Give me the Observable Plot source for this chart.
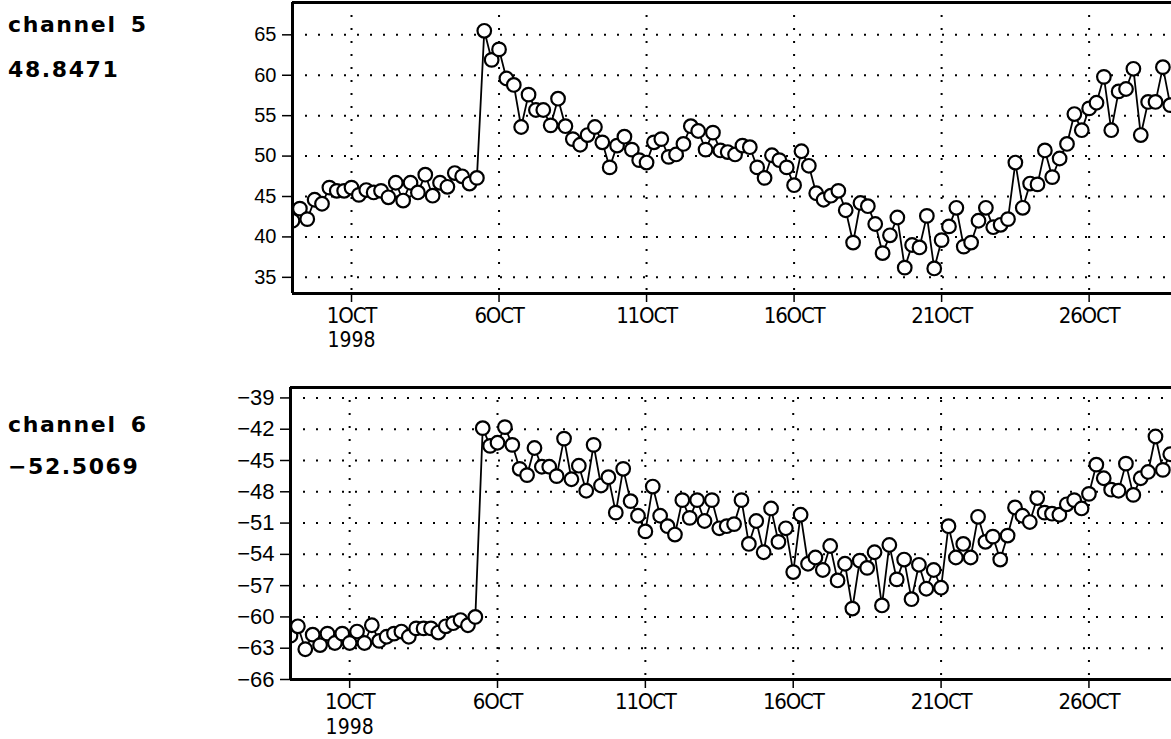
<!DOCTYPE html>
<html>
<head>
<meta charset="utf-8">
<script src="https://cdn.jsdelivr.net/npm/d3@7"></script>
<script src="https://cdn.jsdelivr.net/npm/@observablehq/plot@0.6"></script>
<style>
  html, body { margin: 0; padding: 0; background: #fff; }
  body { width: 1171px; height: 739px; position: relative; overflow: hidden; }
  .lab { position: absolute; left: 8px; z-index: 5; font-family: "DejaVu Sans", sans-serif; font-weight: bold;
         font-size: 22px; letter-spacing: 1.6px; word-spacing: 5px; line-height: 1; color: #000; white-space: pre; }
  .panel { position: absolute; left: 0; z-index: 1; }
  .panel [aria-label^="x-axis"] text { font-family: "DejaVu Sans Condensed", "Liberation Sans Narrow", "Liberation Sans", sans-serif; font-size: 22px; letter-spacing: -1.2px; }
  #p1 [aria-label^="y-axis"] text { font-size: 20px; }
  #p2 [aria-label^="y-axis"] text { font-size: 22px; }
  .panel [aria-label^="y-axis"] line, .panel [aria-label^="y-axis"] path,
  .panel [aria-label^="x-axis"] line, .panel [aria-label^="x-axis"] path { stroke-width: 1.5px; }
</style>
</head>
<body>
<div id="p1" class="panel" style="top:0px"></div>
<div id="p2" class="panel" style="top:385px"></div>
<div class="lab" style="top:14px">channel 5</div>
<div class="lab" style="top:59px">48.8471</div>
<div class="lab" style="top:414px">channel 6</div>
<div class="lab" style="top:456px">−52.5069</div>
<script>
// ---- data (6-hourly samples starting 29 Sep 1998 00:00 UTC) ----
const startUTC = [1998, 8, 29];
const stepHours = 6;

const ch5 = [
  42.0, 43.5, 42.2, 44.6, 44.1, 46.1, 45.7, 45.7, 46.1, 45.2,
  45.8, 45.5, 45.7, 44.9, 46.7, 44.5, 46.7, 45.5, 47.7, 45.1,
  46.7, 46.2, 47.9, 47.5, 46.6, 47.3, 65.5, 61.9, 63.2, 59.6,
  58.8, 53.6, 57.6, 55.7, 55.7, 53.8, 57.1, 53.7, 52.1, 51.4,
  52.6, 53.6, 51.7, 48.6, 51.3, 52.4, 50.8, 49.5, 49.2, 51.7,
  52.1, 49.9, 50.2, 51.5, 53.7, 53.1, 50.8, 52.9, 50.7, 50.5,
  50.2, 51.3, 51.1, 48.6, 47.3, 50.1, 49.5, 48.6, 46.4, 50.6,
  48.8, 45.4, 44.6, 45.1, 45.7, 43.3, 39.3, 44.2, 43.8, 41.6,
  38.0, 40.2, 42.4, 36.2, 39.0, 38.7, 42.6, 36.1, 39.6, 41.3,
  43.6, 38.8, 39.3, 42.0, 43.6, 41.2, 41.5, 42.2, 49.2, 43.6,
  46.6, 46.5, 50.7, 47.4, 49.7, 51.5, 55.2, 53.2, 55.9, 56.6,
  59.8, 53.2, 58.0, 58.3, 60.8, 52.6, 56.7, 56.7, 61.0, 56.3
];

const ch6 = [
  -61.8, -60.9, -63.1, -61.7, -62.7, -61.6, -62.5, -61.6, -62.5, -61.4,
  -62.5, -60.8, -62.3, -61.9, -61.6, -61.4, -61.9, -61.1, -61.1, -61.1,
  -61.5, -60.9, -60.6, -60.3, -60.8, -60.0, -41.9, -43.6, -43.3, -41.8,
  -43.5, -45.8, -46.4, -43.8, -45.6, -45.6, -46.5, -42.9, -46.8, -45.5,
  -47.9, -43.5, -47.4, -46.6, -50.0, -45.8, -48.9, -50.3, -51.8, -47.5,
  -50.3, -51.3, -52.1, -48.8, -50.5, -48.8, -50.8, -48.8, -51.5, -51.3,
  -51.1, -48.8, -53.0, -50.8, -53.8, -49.6, -52.8, -51.5, -55.7, -50.2,
  -54.9, -54.3, -55.5, -53.2, -56.5, -54.9, -59.2, -54.6, -55.3, -53.8,
  -58.9, -53.1, -56.4, -54.5, -58.3, -55.0, -57.3, -55.5, -57.2, -51.3,
  -54.3, -53.0, -54.3, -50.4, -52.8, -52.3, -54.5, -52.2, -49.5, -50.3,
  -50.9, -48.6, -50.0, -50.1, -50.2, -49.2, -48.8, -49.6, -48.2, -45.4,
  -46.7, -47.8, -47.9, -45.3, -48.3, -46.7, -46.1, -42.7, -45.9, -44.4
];

const tickDaysOct = [1, 6, 11, 16, 21, 26];
const yearLabel = "1998";
const ch5Ticks = [35, 40, 45, 50, 55, 60, 65];
const ch6Ticks = [-66, -63, -60, -57, -54, -51, -48, -45, -42, -39];
const ch5Domain = [33, 69];
const ch6Domain = [-66, -38];
const xDomainUTC = [[1998, 8, 29, 0], [1998, 9, 28, 19]];

// ---- derived ----
const t0 = Date.UTC(...startUTC);
const toRows = vals => vals.map((v, i) => ({t: new Date(t0 + i * stepHours * 3600e3), v}));
const tickDates = tickDaysOct.map(d => new Date(Date.UTC(1998, 9, d)));
const xDomain = xDomainUTC.map(a => new Date(Date.UTC(...a)));
const fmtY = d => (d < 0 ? "\u2212" + (-d) : String(d));

function panel(values, yDomain, yTicks, marginLeft, height, marginBottom, yearDy) {
  const rows = toRows(values);
  return Plot.plot({
    width: 1171,
    height,
    marginTop: 2,
    marginLeft,
    marginRight: 0,
    marginBottom,
    style: {fontFamily: "Liberation Sans, sans-serif", fontSize: "20px", color: "black", background: "transparent", overflow: "visible"},
    x: {type: "utc", domain: xDomain, ticks: tickDates, tickFormat: d => d.getUTCDate() + "OCT", tickSize: 9, tickPadding: 5, label: null},
    y: {domain: yDomain, ticks: yTicks, tickFormat: fmtY, tickSize: 10, tickPadding: 6, label: null},
    marks: [
      Plot.ruleY(yTicks, {stroke: "black", strokeWidth: 2, strokeDasharray: "2,11"}),
      Plot.ruleX(tickDates, {stroke: "black", strokeWidth: 2, strokeDasharray: "2,11"}),
      Plot.line(rows, {x: "t", y: "v", stroke: "black", strokeWidth: 1.8, clip: true}),
      Plot.dot(rows, {x: "t", y: "v", r: 6.8, stroke: "black", strokeWidth: 2.2, fill: "white", clip: true}),
      Plot.ruleX([xDomain[0]], {stroke: "black", strokeWidth: 3}),
      Plot.ruleY([yDomain[0]], {stroke: "black", strokeWidth: 3}),
      Plot.ruleY([yDomain[1]], {stroke: "black", strokeWidth: 3}),
      Plot.text([yearLabel], {x: () => tickDates[0], text: d => d, frameAnchor: "bottom", lineAnchor: "top", dy: yearDy,
        fontFamily: "DejaVu Sans Condensed, Liberation Sans Narrow, Liberation Sans, sans-serif", fontSize: 21, fill: "black"})
    ]
  });
}

document.getElementById("p1").append(panel(ch5, ch5Domain, ch5Ticks, 292, 360, 67, 39));
document.getElementById("p2").append(panel(ch6, ch6Domain, ch6Ticks, 290, 354, 60, 40));
</script>
</body>
</html>
